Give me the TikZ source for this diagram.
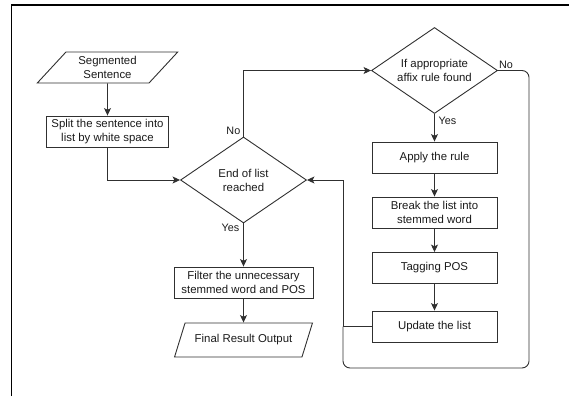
\documentclass[tikz,border=0pt]{standalone}
\usepackage{fontspec}
\setmainfont{Liberation Sans}
\usetikzlibrary{shapes.geometric,arrows.meta}
\definecolor{ln}{HTML}{303030}
\definecolor{tx}{HTML}{1A1A1A}
\begin{document}
\begin{tikzpicture}[x=1pt,y=-1pt,
  every node/.style={font=\fontsize{11.4}{14}\selectfont, text=tx},
  flow/.style={draw=ln, line width=0.9pt},
  arr/.style={flow, -{Stealth[length=7.5pt,width=7pt,inset=1.8pt]}},
  procbox/.style={flow, rectangle, inner sep=0pt, align=center, minimum height=31pt},
  decision/.style={flow, diamond, aspect=1.465, minimum width=126pt, minimum height=86pt, inner sep=0pt, align=center},
  iobox/.style={flow, trapezium, trapezium stretches=true, inner sep=0pt, align=center},
  lbl/.style={font=\fontsize{10.8}{12}\selectfont, inner sep=0pt}
]
\useasboundingbox (0,0) rectangle (569,396);
% page frame
\draw[line width=1.2pt, black] (11.5,396) -- (11.5,5) -- (569,5);

% left column
\node[iobox, trapezium left angle=48, trapezium right angle=132, minimum width=141pt, minimum height=31pt] (seg) at (107.5,67.5) {Segmented\\Sentence};
\node[procbox, minimum width=122pt] (split) at (107.5,131.5) {Split the sentence into\\list by white space};

% middle column
\node[decision] (d1) at (243.5,180) {End of list\\reached};
\node[procbox, minimum width=139pt] (filt) at (243.5,282.5) {Filter the unnecessary\\stemmed word and POS};
\node[iobox, trapezium left angle=50.5, trapezium right angle=129.5, minimum width=138pt, minimum height=34pt] (fin) at (243.5,340) {Final Result Output};

% right column
\node[decision] (d2) at (434.5,70.5) {If appropriate\\affix rule found};
\node[procbox, minimum width=125pt] (apply) at (434.5,157.5) {Apply the rule};
\node[procbox, minimum width=125pt] (brk) at (434.5,212.5) {Break the list into\\stemmed word};
\node[procbox, minimum width=125pt] (tag) at (434.5,268) {Tagging POS};
\node[procbox, minimum width=125pt] (upd) at (434.5,326.5) {Update the list};

% routing guides
\coordinate (jx) at (343,0);
\coordinate (rx) at (529,0);
\coordinate (by) at (0,368);

% connectors
\draw[arr] (seg.south) -- (split.north);
\draw[arr] (split.south) |- (d1.west);
\draw[arr] (d1.north) |- (d2.west);
\draw[arr] (d2.south) -- (apply.north);
\draw[arr] (apply.south) -- (brk.north);
\draw[arr] (brk.south) -- (tag.north);
\draw[arr] (tag.south) -- (upd.north);
\draw[arr] (upd.west) -- (upd.west -| jx) |- (d1.east);
\draw[flow, rounded corners=7pt] (d2.east) -| (rx |- by) -| (upd.west -| jx);
\draw[arr] (d1.south) -- (filt.north);
\draw[arr] (filt.south) -- (fin.north);

% branch labels
\node[lbl, anchor=east] at ([xshift=-3pt,yshift=6pt]d1.north) {No};
\node[lbl, anchor=east] at ([xshift=-4pt,yshift=-4.5pt]d1.south) {Yes};
\node[lbl, anchor=west] at ([xshift=4pt,yshift=-7pt]d2.south) {Yes};
\node[lbl, anchor=south west] at ([xshift=1pt,yshift=2pt]d2.east) {No};
\end{tikzpicture}
\end{document}
